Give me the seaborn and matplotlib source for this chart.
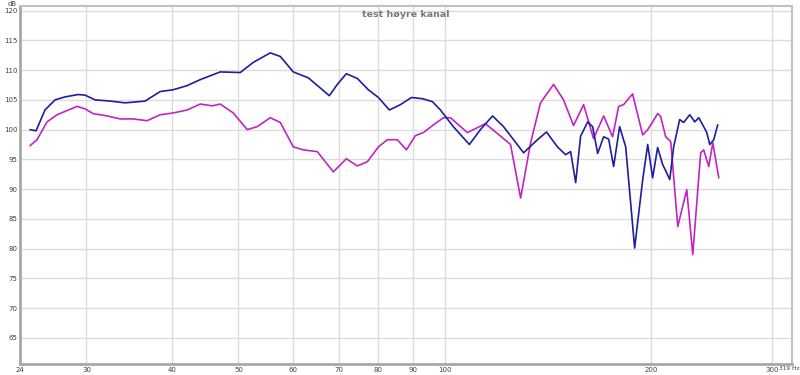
import numpy as np
import pandas as pd
import seaborn as sns
import matplotlib.pyplot as plt
from matplotlib.ticker import FixedLocator, NullLocator

# frequency response, right channel
freq_blue = [24.82, 25.33, 26.10, 27.00, 27.92, 29.17, 29.86, 30.89, 32.48, 34.16,
             36.54, 38.43, 40.15, 42.08, 43.97, 47.02, 50.30, 52.54, 55.63, 57.54,
             60.11, 63.22, 65.82, 67.84, 69.69, 71.83, 74.54, 77.35, 80.00, 83.01,
             86.14, 89.39, 92.75, 95.92, 98.54, 102.9, 108.6, 112.7, 117.4, 121.8,
             130.3, 136.5, 140.7, 146.0, 150.0, 152.6, 155.2, 157.8, 161.6, 164.3,
             167.1, 170.5, 173.4, 176.3, 179.9, 183.6, 189.2, 194.4, 197.7, 201.0,
             204.4, 207.9, 210.0, 212.9, 215.7, 220.1, 223.1, 227.7, 231.5, 234.7,
             238.6, 241.1, 243.5, 246.8, 250.1]
db_blue = [100.0, 99.8, 103.3, 105.0, 105.5, 105.9, 105.8, 105.0, 104.8, 104.5,
           104.8, 106.4, 106.7, 107.4, 108.4, 109.7, 109.6, 111.3, 112.9, 112.3,
           109.7, 108.7, 107.0, 105.7, 107.6, 109.4, 108.6, 106.7, 105.4, 103.3,
           104.2, 105.4, 105.2, 104.7, 103.3, 100.5, 97.5, 100.0, 102.3, 100.5,
           96.1, 98.3, 99.6, 97.1, 95.8, 96.3, 91.1, 98.9, 101.3, 100.5,
           96.0, 98.8, 98.4, 93.8, 100.5, 97.1, 80.1, 91.6, 97.5, 91.9,
           97.0, 94.1, 93.1, 91.6, 97.1, 101.7, 101.2, 102.5, 101.3, 102.0,
           100.5, 99.5, 97.5, 98.3, 100.8]

freq_mag = [24.82, 25.41, 26.28, 27.18, 28.11, 29.07, 29.86, 30.68, 32.16, 33.60,
            35.10, 36.79, 38.43, 40.15, 42.08, 43.97, 45.78, 47.02, 49.13, 51.49,
            53.25, 55.63, 57.54, 60.11, 62.16, 65.16, 66.94, 68.76, 71.83, 74.54,
            77.09, 80.00, 82.45, 85.27, 87.89, 90.60, 93.06, 96.25, 99.54, 101.9,
            107.9, 114.6, 120.6, 124.7, 129.0, 133.4, 137.9, 144.1, 149.0, 154.1,
            159.4, 164.8, 170.5, 175.7, 179.3, 182.3, 187.9, 194.4, 197.7, 201.0,
            204.4, 206.5, 210.0, 213.6, 218.7, 225.4, 230.0, 236.2, 238.6, 242.7,
            246.0, 251.0]
db_mag = [97.3, 98.3, 101.3, 102.5, 103.2, 103.9, 103.5, 102.7, 102.3, 101.8,
          101.8, 101.5, 102.5, 102.8, 103.3, 104.3, 104.0, 104.3, 102.8, 100.0,
          100.5, 102.0, 101.2, 97.1, 96.6, 96.3, 94.6, 92.9, 95.1, 93.9,
          94.6, 97.1, 98.3, 98.3, 96.6, 99.0, 99.5, 100.8, 102.0, 102.0,
          99.5, 101.0, 98.9, 97.5, 88.5, 97.8, 104.5, 107.6, 105.0, 100.7,
          104.2, 98.5, 102.3, 98.8, 103.9, 104.2, 106.0, 99.1, 100.0, 101.3,
          102.7, 102.2, 98.8, 98.0, 83.7, 89.9, 79.0, 96.1, 96.6, 93.8,
          97.8, 91.9]

x_ticks = [24, 30, 40, 50, 60, 70, 80, 90, 100, 200, 300]
x_grid = [30, 40, 50, 60, 70, 80, 90, 100, 200, 300]
y_ticks = [65, 70, 75, 80, 85, 90, 95, 100, 105, 110, 115, 120]
title = "test høyre kanal"

sns.set_theme(style="white")
plt.rcParams['font.family'] = ['DejaVu Sans']

df_b = pd.DataFrame({"freq": freq_blue, "db": db_blue})
df_m = pd.DataFrame({"freq": freq_mag, "db": db_mag})

fig = plt.figure(figsize=(8, 3.75), dpi=100)
ax = fig.add_axes([0.025, 0.0293, 0.965, 0.955])
ax.set_xscale("log")

for v in x_grid:
    ax.axvline(v, color="#dcdcdc", lw=1, zorder=0)
for v in y_ticks:
    ax.axhline(v, color="#dcdcdc", lw=1, zorder=0)

sns.lineplot(data=df_m, x="freq", y="db", color="#c224c4", lw=1.2, ax=ax,
             estimator=None, sort=False)
sns.lineplot(data=df_b, x="freq", y="db", color="#1e1e9e", lw=1.2, ax=ax,
             estimator=None, sort=False)

ax.set_xlim(24, 321)
ax.set_ylim(60.6, 120.8)
ax.xaxis.set_major_locator(FixedLocator(x_ticks))
ax.xaxis.set_minor_locator(NullLocator())
ax.set_xticklabels([str(t) for t in x_ticks])
ax.set_yticks(y_ticks)
ax.set_yticklabels([str(t) for t in y_ticks])
ax.tick_params(axis="both", length=0, labelsize=5, colors="#404040", pad=2)
ax.set_xlabel("")
ax.set_ylabel("")

for s in ["left", "bottom"]:
    ax.spines[s].set_color("#a8a8a8")
    ax.spines[s].set_linewidth(2)
for s in ["top", "right"]:
    ax.spines[s].set_color("#c0c0c0")
    ax.spines[s].set_linewidth(1.5)

ax.text(0.5, 0.988, title, transform=ax.transAxes, ha="center", va="top",
        fontsize=6.8, fontweight="bold", color="#7a7a7a")
fig.text(12 / 800, 1 - 4 / 375, "dB", fontsize=5, color="#404040",
         ha="center", va="center")
fig.text(779 / 800, 1 - 369 / 375, "319 Hz", fontsize=4.2, color="#404040",
         ha="left", va="center")

fig.savefig("out.png", dpi=100)
